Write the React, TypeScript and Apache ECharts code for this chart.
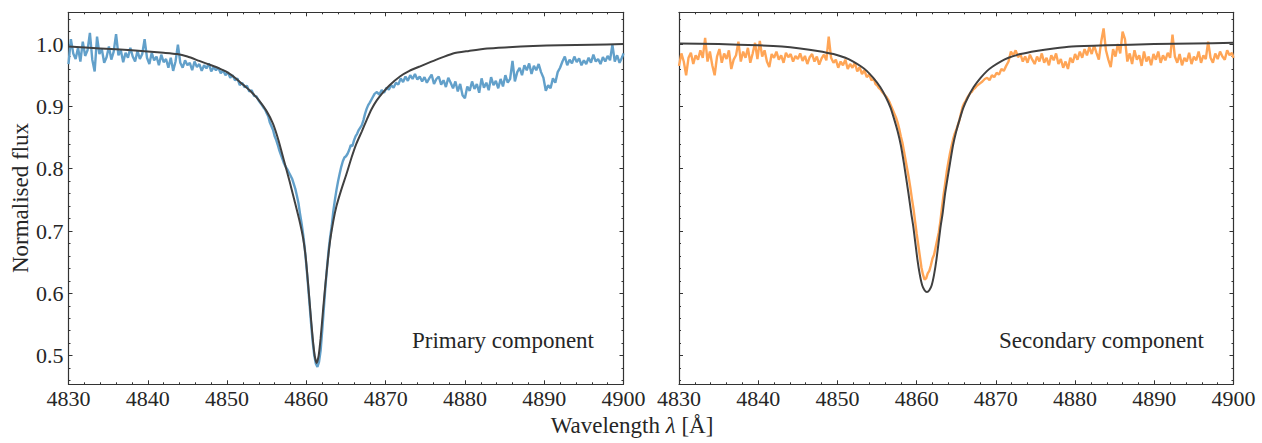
import React, { useEffect, useRef } from "react";
import * as echarts from "echarts";

// ---------- data (wavelength in Å, normalised flux) ----------
const primaryData: [number, number][] = [
  [4830.0,0.968],[4830.3,1.008],[4830.6,0.985],[4830.9,0.976],[4831.2,0.994],[4831.5,0.972],[4831.8,1.004],[4832.1,0.981],[4832.4,0.990],[4832.7,1.018],
  [4833.0,0.975],[4833.3,0.956],[4833.6,1.012],[4833.9,0.984],[4834.2,0.992],[4834.5,0.970],[4834.8,0.979],[4835.1,0.996],[4835.4,0.975],[4835.7,0.988],
  [4836.0,1.016],[4836.3,0.982],[4836.6,0.990],[4836.9,0.971],[4837.2,0.986],[4837.5,0.978],[4837.8,0.994],[4838.1,0.980],[4838.4,0.972],[4838.7,0.989],
  [4839.0,0.976],[4839.3,0.984],[4839.6,1.008],[4839.9,0.978],[4840.2,0.968],[4840.5,0.986],[4840.8,0.974],[4841.1,0.980],[4841.4,0.966],[4841.7,0.983],
  [4842.0,0.971],[4842.3,0.976],[4842.6,0.962],[4842.9,0.978],[4843.2,0.957],[4843.5,0.972],[4843.8,0.999],[4844.1,0.970],[4844.4,0.962],[4844.7,0.974],
  [4845.0,0.966],[4845.3,0.970],[4845.6,0.958],[4845.9,0.972],[4846.2,0.963],[4846.5,0.968],[4846.8,0.957],[4847.1,0.966],[4847.4,0.961],[4847.7,0.969],
  [4848.0,0.956],[4848.3,0.963],[4848.6,0.958],[4848.9,0.962],[4849.2,0.953],[4849.5,0.958],[4849.8,0.950],[4850.1,0.955],[4850.4,0.946],[4850.7,0.950],
  [4851.0,0.942],[4851.3,0.945],[4851.6,0.934],[4851.9,0.938],[4852.2,0.931],[4852.5,0.933],[4852.8,0.924],[4853.1,0.926],[4853.4,0.917],[4853.7,0.916],
  [4854.0,0.909],[4854.3,0.904],[4854.6,0.898],[4854.8,0.895],[4855.0,0.889],[4855.2,0.884],[4855.4,0.874],[4855.6,0.868],[4855.8,0.862],[4856.0,0.852],
  [4856.2,0.846],[4856.4,0.838],[4856.6,0.829],[4856.8,0.822],[4857.0,0.815],[4857.2,0.808],[4857.4,0.803],[4857.6,0.799],[4857.8,0.794],[4858.0,0.789],
  [4858.2,0.784],[4858.4,0.776],[4858.6,0.768],[4858.8,0.757],[4859.0,0.745],[4859.2,0.728],[4859.4,0.712],[4859.6,0.694],[4859.8,0.672],[4860.0,0.645],
  [4860.2,0.615],[4860.4,0.583],[4860.6,0.551],[4860.8,0.522],[4861.0,0.500],[4861.2,0.487],[4861.4,0.482],[4861.6,0.490],[4861.8,0.508],[4862.0,0.540],
  [4862.2,0.575],[4862.4,0.610],[4862.6,0.640],[4862.8,0.668],[4863.0,0.690],[4863.2,0.708],[4863.4,0.732],[4863.6,0.750],[4863.8,0.766],[4864.0,0.780],
  [4864.2,0.792],[4864.4,0.803],[4864.6,0.812],[4864.8,0.818],[4865.0,0.820],[4865.2,0.824],[4865.4,0.830],[4865.6,0.838],[4865.8,0.836],[4866.0,0.845],
  [4866.2,0.852],[4866.4,0.856],[4866.6,0.862],[4866.8,0.866],[4867.0,0.870],[4867.2,0.878],[4867.4,0.888],[4867.6,0.896],[4867.8,0.902],[4868.0,0.906],
  [4868.3,0.913],[4868.6,0.920],[4868.9,0.923],[4869.2,0.919],[4869.5,0.926],[4869.8,0.922],[4870.1,0.930],[4870.4,0.927],[4870.7,0.934],[4871.0,0.930],
  [4871.3,0.938],[4871.6,0.935],[4871.9,0.945],[4872.2,0.939],[4872.5,0.948],[4872.8,0.941],[4873.1,0.950],[4873.4,0.944],[4873.7,0.952],[4874.0,0.943],
  [4874.3,0.948],[4874.6,0.940],[4874.9,0.947],[4875.2,0.938],[4875.5,0.945],[4875.8,0.951],[4876.1,0.936],[4876.4,0.944],[4876.7,0.948],[4877.0,0.935],
  [4877.3,0.942],[4877.6,0.931],[4877.9,0.946],[4878.2,0.938],[4878.5,0.929],[4878.8,0.940],[4879.1,0.924],[4879.4,0.936],[4879.7,0.918],[4880.0,0.913],
  [4880.3,0.932],[4880.6,0.925],[4880.9,0.940],[4881.2,0.928],[4881.5,0.936],[4881.8,0.922],[4882.1,0.945],[4882.4,0.930],[4882.7,0.938],[4883.0,0.926],
  [4883.3,0.947],[4883.6,0.934],[4883.9,0.941],[4884.2,0.929],[4884.5,0.944],[4884.8,0.932],[4885.1,0.950],[4885.4,0.938],[4885.7,0.944],[4886.0,0.973],
  [4886.3,0.940],[4886.6,0.955],[4886.9,0.962],[4887.2,0.950],[4887.5,0.966],[4887.8,0.958],[4888.1,0.969],[4888.4,0.952],[4888.7,0.965],[4889.0,0.958],
  [4889.3,0.968],[4889.6,0.955],[4889.9,0.946],[4890.2,0.925],[4890.5,0.934],[4890.8,0.929],[4891.1,0.945],[4891.4,0.938],[4891.7,0.955],[4892.0,0.962],
  [4892.3,0.972],[4892.6,0.980],[4892.9,0.966],[4893.2,0.975],[4893.5,0.969],[4893.8,0.980],[4894.1,0.971],[4894.4,0.977],[4894.7,0.966],[4895.0,0.974],
  [4895.3,0.968],[4895.6,0.978],[4895.9,0.970],[4896.2,0.983],[4896.5,0.972],[4896.8,0.976],[4897.1,0.968],[4897.4,0.979],[4897.7,0.972],[4898.0,0.981],
  [4898.3,0.974],[4898.6,0.999],[4898.9,0.972],[4899.2,0.982],[4899.5,0.970],[4899.8,0.978],[4900.0,0.985],
];

const primaryModel: [number, number][] = [
  [4830,0.996],[4834,0.993],[4838,0.990],[4842,0.986],[4843.7,0.984],[4845,0.980],[4846.5,0.973],[4848,0.966],[4849,0.961],[4850,0.955],
  [4851,0.946],[4852,0.935],[4853,0.924],[4854,0.910],[4855,0.892],[4855.8,0.872],[4856.5,0.845],[4857.2,0.812],[4857.9,0.779],[4858.5,0.749],
  [4859.2,0.713],[4859.6,0.688],[4859.9,0.660],[4860.2,0.618],[4860.5,0.572],[4860.8,0.528],[4861.05,0.500],[4861.3,0.488],[4861.55,0.500],[4861.8,0.528],
  [4862.1,0.572],[4862.4,0.614],[4862.7,0.652],[4863.0,0.685],[4863.4,0.716],[4863.8,0.740],[4864.4,0.766],[4865.1,0.793],[4865.7,0.818],[4866.3,0.840],
  [4867,0.860],[4867.6,0.878],[4868.2,0.895],[4868.9,0.910],[4869.7,0.923],[4870.5,0.934],[4871.8,0.948],[4873,0.957],[4874.3,0.964],[4876.4,0.975],
  [4878.5,0.985],[4880.5,0.989],[4882.8,0.993],[4885.5,0.995],[4888.6,0.997],[4892,0.998],[4896,0.999],[4900,1.0],
];

const secondaryData: [number, number][] = [
  [4830.0,0.965],[4830.3,0.985],[4830.6,0.972],[4830.9,0.950],[4831.2,0.978],[4831.5,0.986],[4831.8,0.968],[4832.1,0.982],[4832.4,0.975],[4832.7,0.990],
  [4833.0,0.978],[4833.3,1.010],[4833.6,0.972],[4833.9,0.988],[4834.2,0.966],[4834.5,0.950],[4834.8,0.980],[4835.1,0.992],[4835.4,0.970],[4835.7,0.985],
  [4836.0,0.976],[4836.3,0.990],[4836.6,0.960],[4836.9,0.975],[4837.2,0.982],[4837.5,1.004],[4837.8,0.972],[4838.1,0.988],[4838.4,0.978],[4838.7,0.994],
  [4839.0,0.970],[4839.3,0.985],[4839.6,1.002],[4839.9,0.976],[4840.2,1.005],[4840.5,0.980],[4840.8,0.990],[4841.1,0.972],[4841.4,0.963],[4841.7,0.984],
  [4842.0,0.978],[4842.3,0.988],[4842.6,0.975],[4842.9,0.982],[4843.2,0.970],[4843.5,0.986],[4843.8,0.979],[4844.1,0.984],[4844.4,0.972],[4844.7,0.981],
  [4845.0,0.976],[4845.3,0.985],[4845.6,0.973],[4845.9,0.981],[4846.2,0.968],[4846.5,0.979],[4846.8,0.984],[4847.1,0.972],[4847.4,0.980],[4847.7,0.967],
  [4848.0,0.977],[4848.3,0.983],[4848.6,0.974],[4848.9,1.012],[4849.2,0.978],[4849.5,0.970],[4849.8,0.975],[4850.1,0.962],[4850.4,0.972],[4850.7,0.966],
  [4851.0,0.975],[4851.3,0.960],[4851.6,0.968],[4851.9,0.962],[4852.2,0.970],[4852.5,0.956],[4852.8,0.963],[4853.1,0.952],[4853.4,0.958],[4853.7,0.947],
  [4854.0,0.951],[4854.3,0.942],[4854.6,0.944],[4854.8,0.936],[4855.0,0.934],[4855.2,0.930],[4855.4,0.928],[4855.6,0.924],[4855.8,0.921],[4856.0,0.918],
  [4856.2,0.915],[4856.4,0.911],[4856.6,0.906],[4856.8,0.900],[4857.0,0.894],[4857.2,0.888],[4857.4,0.882],[4857.6,0.874],[4857.8,0.864],[4858.0,0.852],
  [4858.2,0.842],[4858.4,0.828],[4858.6,0.814],[4858.8,0.800],[4859.0,0.786],[4859.2,0.770],[4859.4,0.752],[4859.6,0.736],[4859.8,0.716],[4860.0,0.696],
  [4860.2,0.678],[4860.4,0.660],[4860.6,0.642],[4860.8,0.630],[4861.0,0.622],[4861.2,0.624],[4861.4,0.632],[4861.6,0.636],[4861.8,0.645],[4862.0,0.656],
  [4862.2,0.662],[4862.4,0.674],[4862.6,0.686],[4862.8,0.698],[4863.0,0.716],[4863.2,0.738],[4863.4,0.758],[4863.6,0.776],[4863.8,0.795],[4864.0,0.810],
  [4864.2,0.824],[4864.4,0.836],[4864.6,0.847],[4864.8,0.856],[4865.0,0.862],[4865.2,0.870],[4865.4,0.878],[4865.6,0.889],[4865.8,0.899],[4866.0,0.905],
  [4866.2,0.909],[4866.4,0.914],[4866.6,0.918],[4866.8,0.922],[4867.0,0.924],[4867.2,0.928],[4867.4,0.930],[4867.6,0.933],[4867.8,0.935],[4868.0,0.937],
  [4868.3,0.940],[4868.6,0.944],[4868.9,0.946],[4869.2,0.942],[4869.5,0.950],[4869.8,0.947],[4870.1,0.954],[4870.4,0.951],[4870.7,0.960],[4871.0,0.957],
  [4871.3,0.965],[4871.6,0.972],[4871.9,0.988],[4872.2,0.982],[4872.5,0.990],[4872.8,0.979],[4873.1,0.984],[4873.4,0.972],[4873.7,0.980],[4874.0,0.970],
  [4874.3,0.983],[4874.6,0.975],[4874.9,0.968],[4875.2,0.980],[4875.5,0.972],[4875.8,0.985],[4876.1,0.970],[4876.4,0.978],[4876.7,0.966],[4877.0,0.982],
  [4877.3,0.974],[4877.6,0.985],[4877.9,0.968],[4878.2,0.976],[4878.5,0.962],[4878.8,0.972],[4879.1,0.960],[4879.4,0.978],[4879.7,0.970],[4880.0,0.984],
  [4880.3,0.975],[4880.6,0.988],[4880.9,0.978],[4881.2,0.992],[4881.5,0.982],[4881.8,0.995],[4882.1,0.984],[4882.4,0.998],[4882.7,0.986],[4883.0,0.975],
  [4883.3,1.004],[4883.6,1.025],[4883.9,0.990],[4884.2,0.975],[4884.5,0.963],[4884.8,0.992],[4885.1,0.980],[4885.4,1.000],[4885.7,0.985],[4886.0,1.020],
  [4886.3,1.008],[4886.6,0.972],[4886.9,0.985],[4887.2,0.968],[4887.5,0.990],[4887.8,0.975],[4888.1,0.982],[4888.4,0.965],[4888.7,0.988],[4889.0,0.972],
  [4889.3,0.980],[4889.6,0.966],[4889.9,0.984],[4890.2,0.975],[4890.5,0.988],[4890.8,0.970],[4891.1,0.982],[4891.4,0.974],[4891.7,0.986],[4892.0,0.978],
  [4892.3,1.015],[4892.6,0.980],[4892.9,0.970],[4893.2,0.984],[4893.5,0.966],[4893.8,0.978],[4894.1,0.972],[4894.4,0.986],[4894.7,0.968],[4895.0,0.980],
  [4895.3,0.974],[4895.6,0.988],[4895.9,0.970],[4896.2,0.982],[4896.5,0.976],[4896.8,1.004],[4897.1,0.978],[4897.4,0.970],[4897.7,0.985],[4898.0,0.976],
  [4898.3,0.988],[4898.6,0.980],[4898.9,0.975],[4899.2,0.990],[4899.5,0.982],[4899.8,0.986],[4900.0,0.978],
];

const secondaryModel: [number, number][] = [
  [4830,1.001],[4835,1.0],[4840,0.998],[4843,0.996],[4845.3,0.993],[4847.5,0.989],[4849.5,0.984],[4851,0.978],[4852,0.972],[4853,0.964],
  [4853.7,0.957],[4854.5,0.946],[4855.4,0.931],[4856.1,0.915],[4856.7,0.898],[4857.2,0.878],[4857.6,0.860],[4858,0.838],[4858.4,0.808],[4858.96,0.761],
  [4859.3,0.730],[4859.6,0.705],[4860.1,0.654],[4860.4,0.630],[4860.7,0.613],[4861.0,0.605],[4861.3,0.602],[4861.6,0.605],[4861.9,0.613],[4862.2,0.630],
  [4862.5,0.654],[4863.0,0.705],[4863.3,0.730],[4863.6,0.761],[4864.2,0.808],[4864.6,0.838],[4865,0.860],[4865.4,0.878],[4865.9,0.898],[4866.5,0.915],
  [4867.2,0.931],[4868.1,0.946],[4868.9,0.957],[4869.6,0.964],[4870.6,0.972],[4871.6,0.978],[4873.1,0.984],[4875.1,0.989],[4877.3,0.993],[4879.6,0.996],
  [4884,0.998],[4890,1.0],[4895,1.001],[4900,1.002],
];

const panelLabels = ["Primary component", "Secondary component"];
const yTitle = "Normalised flux";
const X_MIN = 4830;
const X_MAX = 4900;
const X_STEP = 10;
const Y_MIN = 0.454;
const Y_MAX = 1.051;
const Y_STEP = 0.1;

const FONT = "'Liberation Serif', 'Times New Roman', serif";
const AXIS_COLOR = "#333333";
const TEXT_COLOR = "#262626";

const GRIDS = [
  { left: 68.5, top: 12.3, width: 555, height: 372 },
  { left: 679, top: 12.3, width: 554.5, height: 372 },
];

function makeX(gridIndex: number, position: "bottom" | "top", labels: boolean) {
  return {
    type: "value",
    gridIndex,
    position,
    min: X_MIN,
    max: X_MAX,
    interval: X_STEP,
    axisLine: { show: true, onZero: false, lineStyle: { color: AXIS_COLOR, width: 1.2 } },
    axisTick: { show: true, inside: true, length: 4, lineStyle: { color: AXIS_COLOR, width: 1 } },
    minorTick: { show: true, splitNumber: 5, length: 2, lineStyle: { color: AXIS_COLOR, width: 1 } },
    axisLabel: {
      show: labels,
      margin: 3,
      fontFamily: FONT,
      fontSize: 22,
      color: TEXT_COLOR,
      formatter: (v: number) => String(Math.round(v)),
    },
    splitLine: { show: false },
  };
}

function makeY(gridIndex: number, position: "left" | "right", labels: boolean) {
  return {
    type: "value",
    gridIndex,
    position,
    min: Y_MIN,
    max: Y_MAX,
    splitNumber: 6,
    minInterval: Y_STEP,
    maxInterval: Y_STEP,
    axisLine: { show: true, onZero: false, lineStyle: { color: AXIS_COLOR, width: 1.2 } },
    axisTick: { show: true, inside: true, length: 4, lineStyle: { color: AXIS_COLOR, width: 1 } },
    minorTick: { show: true, splitNumber: 5, length: 2, lineStyle: { color: AXIS_COLOR, width: 1 } },
    axisLabel: {
      show: labels,
      margin: 5,
      fontFamily: FONT,
      fontSize: 22,
      color: TEXT_COLOR,
      showMinLabel: false,
      showMaxLabel: false,
      formatter: (v: number) => v.toFixed(1),
    },
    splitLine: { show: false },
  };
}

function lineSeries(data: [number, number][], axis: number, color: string, width: number, z: number, smooth: number | boolean) {
  return {
    type: "line",
    xAxisIndex: axis,
    yAxisIndex: axis,
    data,
    symbol: "none",
    showSymbol: false,
    smooth,
    clip: true,
    lineStyle: { color, width },
    z,
  };
}

export default function App() {
  const ref = useRef<HTMLDivElement>(null);
  useEffect(() => {
    if (!ref.current) return;
    const chart = echarts.init(ref.current, null, { renderer: "svg" });
    chart.setOption({
      animation: false,
      backgroundColor: "#ffffff",
      grid: GRIDS,
      xAxis: [makeX(0, "bottom", true), makeX(1, "bottom", true), makeX(0, "top", false), makeX(1, "top", false)],
      yAxis: [makeY(0, "left", true), makeY(1, "left", false), makeY(0, "right", false), makeY(1, "right", false)],
      series: [
        lineSeries(primaryData, 0, "#62a0ca", 2.4, 2, false),
        lineSeries(primaryModel, 0, "#404040", 2, 3, 0.2),
        lineSeries(secondaryData, 1, "#ffa556", 2.4, 2, false),
        lineSeries(secondaryModel, 1, "#404040", 2, 3, 0.2),
      ],
      graphic: [
        {
          type: "text",
          x: 594,
          y: 340,
          style: { text: panelLabels[0], fontFamily: FONT, fontSize: 23, fill: TEXT_COLOR, align: "right", verticalAlign: "middle" },
        },
        {
          type: "text",
          x: 1204,
          y: 340,
          style: { text: panelLabels[1], fontFamily: FONT, fontSize: 23, fill: TEXT_COLOR, align: "right", verticalAlign: "middle" },
        },
        {
          type: "text",
          x: 20.5,
          y: 198,
          rotation: Math.PI / 2,
          style: { text: yTitle, fontFamily: FONT, fontSize: 23, fill: TEXT_COLOR, align: "center", verticalAlign: "middle" },
        },
        {
          type: "text",
          x: 632,
          y: 425,
          style: {
            text: "{n|Wavelength }{l|λ}{n| [Å]}",
            align: "center",
            verticalAlign: "middle",
            rich: {
              n: { fontFamily: FONT, fontSize: 23, fill: TEXT_COLOR },
              l: { fontFamily: FONT, fontSize: 23, fontStyle: "italic", fill: TEXT_COLOR },
            },
          },
        },
      ],
    });
    return () => chart.dispose();
  }, []);
  return <div ref={ref} style={{ position: "absolute", left: 0, top: 0, width: 1262, height: 443 }} />;
}
